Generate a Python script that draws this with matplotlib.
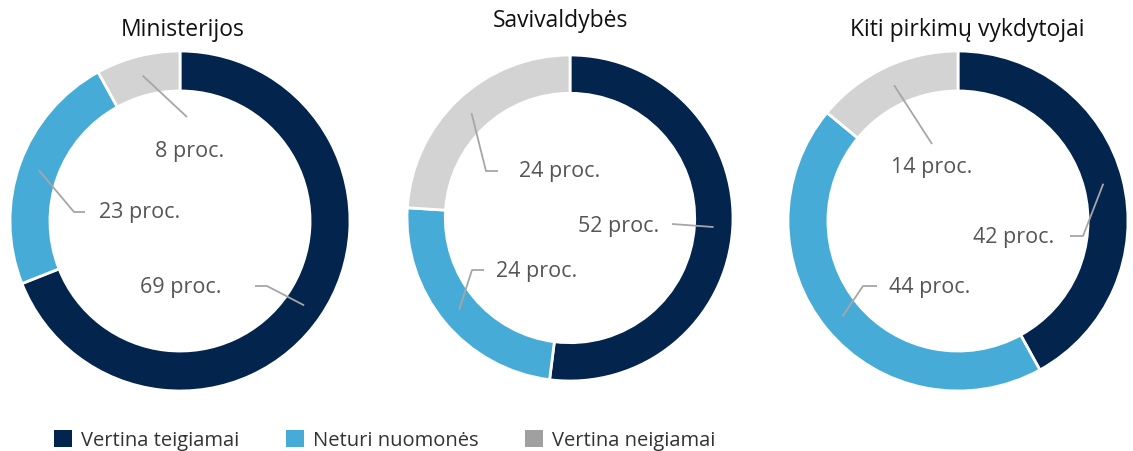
import matplotlib
matplotlib.use("Agg")
import matplotlib.pyplot as plt
from matplotlib.patches import Patch
import numpy as np

plt.rcParams['font.family'] = ['Open Sans', 'DejaVu Sans']

# data
groups = ['Ministerijos', 'Savivaldybės', 'Kiti pirkimų vykdytojai']
categories = ['Vertina teigiamai', 'Neturi nuomonės', 'Vertina neigiamai']
ministerijos = [69, 23, 8]
savivaldybes = [52, 24, 24]
kiti = [42, 44, 14]
series = [ministerijos, savivaldybes, kiti]

colors = ['#03244d', '#47abd8', '#d3d3d3']
legend_colors = ['#03244d', '#47abd8', '#a0a0a0']

W, H = 1133, 452

# layout in image pixels (y from top)
centers = [(180, 222), (570, 219), (958, 222)]
radii = [170, 163, 170]
title_pos = [(183, 30), (560, 21), (967, 30)]
# per slice: text centre, then leader points after the start on the ring
label_layout = [
    [((181, 287), [(267, 287), (255, 287)]),
     ((140, 213), [(74, 213), (85, 213)]),
     ((190, 152), [(187, 118)])],
    [((619, 227), [(672, 225)]),
     ((537, 272), [(472, 271), (484, 271)]),
     ((560, 172), [(486, 172), (498, 172)])],
    [((1014, 238), [(1083, 237), (1070, 237)]),
     ((930, 287), [(863, 287), (877, 287)]),
     ((932, 167), [(932, 145)])],
]

fig = plt.figure(figsize=(W / 100, H / 100), dpi=100)
ax = fig.add_axes([0, 0, 1, 1])

for k, vals in enumerate(series):
    cx, cy = centers[k]
    R = radii[k]
    w = R * 0.235
    wedges, _ = ax.pie(vals, colors=colors, startangle=90, counterclock=False,
                       center=(cx, H - cy), radius=R,
                       wedgeprops=dict(width=w, edgecolor='white', linewidth=2))
    ax.text(title_pos[k][0], H - title_pos[k][1], groups[k], ha='center', va='center',
            fontsize=16.5, color='#111111', fontweight='medium')
    for j, wd in enumerate(wedges):
        mid = np.deg2rad((wd.theta1 + wd.theta2) / 2)
        rm = R - w / 2
        sx, sy = cx + rm * np.cos(mid), (H - cy) + rm * np.sin(mid)
        (tx, ty), pts = label_layout[k][j]
        xs = [sx] + [p[0] for p in pts]
        ys = [sy] + [H - p[1] for p in pts]
        ax.plot(xs, ys, color='#a6a6a6', lw=1.3, solid_capstyle='butt')
        ax.text(tx, H - ty, f'{vals[j]} proc.', ha='center', va='center',
                fontsize=15.5, color='#555555')

ax.set_xlim(0, W)
ax.set_ylim(0, H)
ax.set_aspect('equal')
ax.axis('off')

handles = [Patch(facecolor=c, edgecolor='none') for c in legend_colors]
fig.legend(handles, categories, loc='center left', bbox_to_anchor=(36 / W, 1 - 441 / H),
           ncol=3, frameon=False, fontsize=14.5, handlelength=0.9, handleheight=0.9,
           handletextpad=0.45, columnspacing=2.3, labelcolor='#333333')

fig.savefig('out.png', dpi=100)
